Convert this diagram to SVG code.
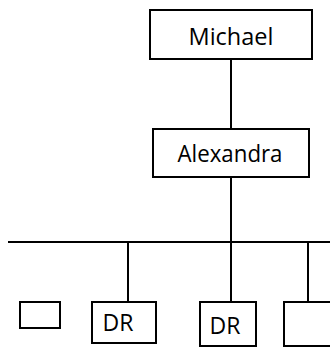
<svg xmlns="http://www.w3.org/2000/svg" width="330" height="347" viewBox="0 0 330 347">
<style>
.box{fill:#fff;stroke:#000;stroke-width:2}
.ln{stroke:#000;stroke-width:2;fill:none}
text{font-family:"Open Sans","Liberation Sans",sans-serif;font-size:23px;fill:#000;text-anchor:middle}
</style>
<rect width="330" height="347" fill="#fff"/>
<g id="connectors">
<line class="ln" x1="231" y1="59" x2="231" y2="129"/>
<line class="ln" x1="231" y1="177" x2="231" y2="302"/>
<line class="ln" x1="8" y1="242" x2="330" y2="242"/>
<line class="ln" x1="128" y1="242" x2="128" y2="302"/>
<line class="ln" x1="308" y1="242" x2="308" y2="302"/>
</g>
<g id="michael"><rect class="box" x="150" y="10" width="162" height="49"/><text x="231" y="45" textLength="85" lengthAdjust="spacingAndGlyphs">Michael</text></g>
<g id="alexandra"><rect class="box" x="153" y="129" width="156" height="48"/><text x="230" y="162" textLength="105" lengthAdjust="spacingAndGlyphs">Alexandra</text></g>
<g id="small"><rect class="box" x="20" y="302" width="40" height="26"/></g>
<g id="dr1"><rect class="box" x="92" y="302" width="64" height="41"/><text x="118" y="331">DR</text></g>
<g id="dr2"><rect class="box" x="200" y="302" width="56" height="44"/><text x="225" y="334">DR</text></g>
<g id="box4"><rect class="box" x="284" y="302" width="60" height="44"/></g>
</svg>
